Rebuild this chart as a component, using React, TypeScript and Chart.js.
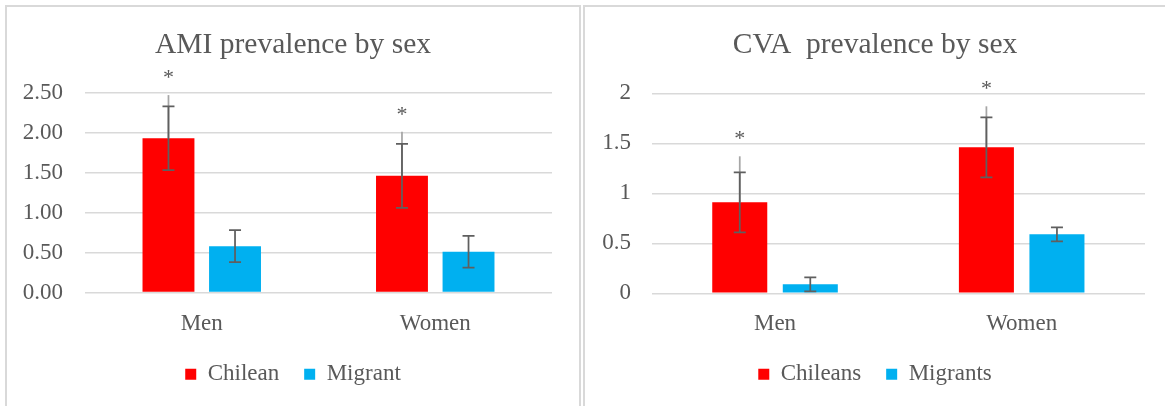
import React, { useEffect, useRef } from "react";
import { Chart, registerables } from "chart.js";

Chart.register(...registerables);

// ---------- data ----------
const categories = ["Men", "Women"];

const amiTitle = "AMI prevalence by sex";
const amiSeriesNames = ["Chilean", "Migrant"];
const amiChilean = [1.93, 1.46];
const amiMigrant = [0.58, 0.51];
const amiChileanErr = [0.4, 0.4];
const amiMigrantErr = [0.2, 0.2];
const amiChileanSigTop = [2.47, 2.01];
const amiMigrantSigTop = [null, null];
const amiTickLabels = ["0.00", "0.50", "1.00", "1.50", "2.00", "2.50"];
const amiMax = 2.5;

const cvaTitle = "CVA  prevalence by sex";
const cvaSeriesNames = ["Chileans", "Migrants"];
const cvaChilean = [0.91, 1.46];
const cvaMigrant = [0.09, 0.59];
const cvaChileanErr = [0.3, 0.3];
const cvaMigrantErr = [0.07, 0.07];
const cvaChileanSigTop = [1.37, 1.87];
const cvaMigrantSigTop = [null, null];
const cvaTickLabels = ["0", "0.5", "1", "1.5", "2"];
const cvaMax = 2;

// ---------- styles ----------
const RED = "#FF0000";
const BLUE = "#00B0F0";
const TEXT = "#595959";
const GRID = "#d9d9d9";
const FONT = "'Liberation Serif', 'Times New Roman', serif";
const LABEL_SIZE = 23;
const LABEL_LINE = LABEL_SIZE * 1.2;

const errorBarPlugin = {
  id: "errorBars",
  afterDatasetsDraw(chart: any) {
    const ctx = chart.ctx;
    const yScale = chart.scales.y;
    chart.data.datasets.forEach((ds: any, di: number) => {
      const meta = chart.getDatasetMeta(di);
      meta.data.forEach((bar: any, i: number) => {
        const v = ds.data[i];
        const x = bar.x;
        const top = ds.sigTops ? ds.sigTops[i] : null;
        ctx.save();
        if (top != null) {
          ctx.strokeStyle = "#a6a6a6";
          ctx.lineWidth = 1.75;
          ctx.beginPath();
          ctx.moveTo(x, yScale.getPixelForValue(v));
          ctx.lineTo(x, yScale.getPixelForValue(top));
          ctx.stroke();
        }
        const e = ds.errors ? ds.errors[i] : null;
        if (e != null) {
          const y1 = yScale.getPixelForValue(v + e);
          const y2 = yScale.getPixelForValue(v - e);
          ctx.strokeStyle = "#5f5f5f";
          ctx.lineWidth = 1.75;
          ctx.beginPath();
          ctx.moveTo(x, y1);
          ctx.lineTo(x, y2);
          ctx.moveTo(x - 6, y1);
          ctx.lineTo(x + 6, y1);
          ctx.moveTo(x - 6, y2);
          ctx.lineTo(x + 6, y2);
          ctx.stroke();
        }
        if (top != null) {
          ctx.fillStyle = TEXT;
          ctx.font = `22px ${FONT}`;
          ctx.textAlign = "center";
          ctx.textBaseline = "middle";
          ctx.fillText("*", x, yScale.getPixelForValue(top) - 17);
        }
        ctx.restore();
      });
    });
  },
};

type PanelProps = {
  width: number;
  height: number;
  title: string;
  names: string[];
  a: number[];
  b: number[];
  aErr: number[];
  bErr: number[];
  aTop: (number | null)[];
  bTop: (number | null)[];
  tickLabels: string[];
  max: number;
  axisWidth: number;
  rightWidth: number;
  yTickPad: number;
  xTickPad: number;
  titleBottom: number;
  catPct: number;
  barPct: number;
};

function BarPanel(p: PanelProps) {
  const ref = useRef<HTMLCanvasElement | null>(null);
  useEffect(() => {
    if (!ref.current) return;
    const font = { family: FONT, size: LABEL_SIZE };
    const chart = new Chart(ref.current, {
      type: "bar",
      data: {
        labels: categories,
        datasets: [
          {
            label: p.names[0],
            data: p.a,
            backgroundColor: RED,
            errors: p.aErr,
            sigTops: p.aTop,
            categoryPercentage: p.catPct,
            barPercentage: p.barPct,
          } as any,
          {
            label: p.names[1],
            data: p.b,
            backgroundColor: BLUE,
            errors: p.bErr,
            sigTops: p.bTop,
            categoryPercentage: p.catPct,
            barPercentage: p.barPct,
          } as any,
        ],
      },
      options: {
        animation: false,
        responsive: false,
        maintainAspectRatio: false,
        layout: { padding: { left: 0, right: 0, top: 0, bottom: 10.3 } },
        plugins: {
          title: {
            display: true,
            text: p.title,
            color: TEXT,
            font: { family: FONT, size: 29.5, weight: "normal" },
            padding: { top: 21, bottom: p.titleBottom },
          },
          legend: {
            position: "bottom",
            labels: {
              boxWidth: 11,
              boxHeight: 11,
              padding: 24.9,
              color: TEXT,
              font,
            },
          },
          tooltip: { enabled: false },
        },
        scales: {
          x: {
            grid: { display: false, drawTicks: false },
            border: { display: false },
            ticks: { padding: p.xTickPad, color: TEXT, font },
            afterFit: (s: any) => {
              s.height = p.xTickPad + LABEL_LINE;
            },
          },
          y: {
            min: 0,
            max: p.max,
            grid: { color: GRID, lineWidth: 1.5, drawTicks: false },
            border: { display: false },
            ticks: {
              stepSize: 0.5,
              padding: p.yTickPad,
              color: TEXT,
              font,
              callback: (_v: any, i: number) => p.tickLabels[i],
            },
            afterFit: (s: any) => {
              s.width = p.axisWidth;
            },
          },
          y2: {
            position: "right",
            min: 0,
            max: p.max,
            grid: { display: false, drawTicks: false },
            border: { display: false },
            ticks: { display: false },
            afterFit: (s: any) => {
              s.width = p.rightWidth;
            },
          },
        },
      } as any,
      plugins: [errorBarPlugin],
    });
    return () => chart.destroy();
  }, []);
  return (
    <canvas
      ref={ref}
      width={p.width}
      height={p.height}
      style={{ width: p.width, height: p.height, display: "block" }}
    />
  );
}

export default function App() {
  return (
    <div
      style={{
        position: "fixed",
        left: 0,
        top: 0,
        width: 1165,
        height: 406,
        background: "#fff",
        overflow: "hidden",
      }}
    >
      <div
        style={{
          position: "absolute",
          left: 5,
          top: 5,
          width: 572,
          height: 420,
          border: `2px solid ${GRID}`,
        }}
      >
        <BarPanel
          width={572}
          height={399}
          title={amiTitle}
          names={amiSeriesNames}
          a={amiChilean}
          b={amiMigrant}
          aErr={amiChileanErr}
          bErr={amiMigrantErr}
          aTop={amiChileanSigTop}
          bTop={amiMigrantSigTop}
          tickLabels={amiTickLabels}
          max={amiMax}
          axisWidth={78}
          rightWidth={27}
          yTickPad={22}
          xTickPad={17.7}
          titleBottom={29.3}
          catPct={0.57}
          barPct={0.78}
        />
      </div>
      <div
        style={{
          position: "absolute",
          left: 583,
          top: 5,
          width: 600,
          height: 420,
          border: `2px solid ${GRID}`,
        }}
      >
        <BarPanel
          width={580}
          height={399}
          title={cvaTitle}
          names={cvaSeriesNames}
          a={cvaChilean}
          b={cvaMigrant}
          aErr={cvaChileanErr}
          bErr={cvaMigrantErr}
          aTop={cvaChileanSigTop}
          bTop={cvaMigrantSigTop}
          tickLabels={cvaTickLabels}
          max={cvaMax}
          axisWidth={66.7}
          rightWidth={20}
          yTickPad={20.7}
          xTickPad={16.9}
          titleBottom={29.9}
          catPct={0.572}
          barPct={0.78}
        />
      </div>
    </div>
  );
}
